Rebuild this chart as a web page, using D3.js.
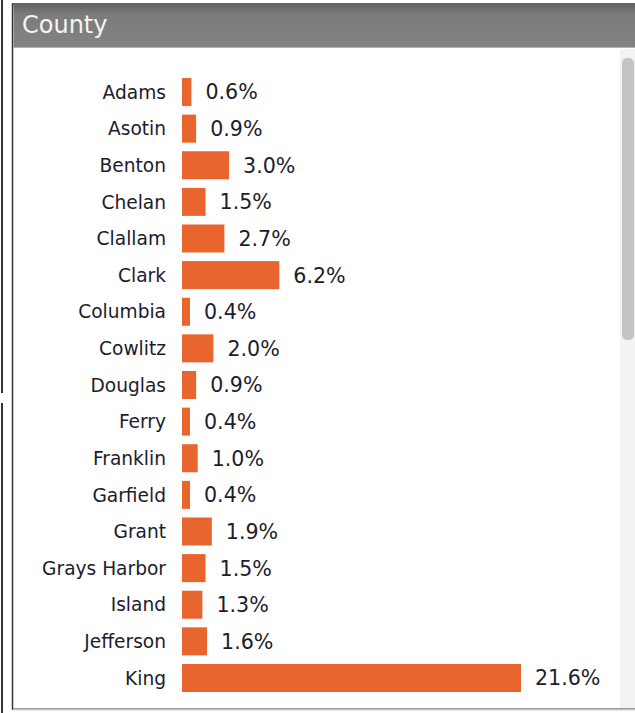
<!DOCTYPE html>
<html>
<head>
<meta charset="utf-8">
<script src="https://cdn.jsdelivr.net/npm/d3@7"></script>
<style>
  html, body { margin: 0; padding: 0; background: #fff; }
  svg { display: block; font-family: "DejaVu Sans", Verdana, sans-serif; }
</style>
</head>
<body>
<div id="main"></div>
<script>
// DATA
const counties = ["Adams", "Asotin", "Benton", "Chelan", "Clallam", "Clark", "Columbia", "Cowlitz",
  "Douglas", "Ferry", "Franklin", "Garfield", "Grant", "Grays Harbor", "Island", "Jefferson", "King"]
const shares = [0.6, 0.9, 3.0, 1.5, 2.7, 6.2, 0.4, 2.0, 0.9, 0.4, 1.0, 0.4, 1.9, 1.5, 1.3, 1.6, 21.6]
const title = "County"

// SETUP
const width = 635
const height = 713
const orange = '#e9652e'
const ink = '#1c1c2c'

let svg = d3.select("#main").append("svg")
  .attr("width", width)
  .attr("height", height)

// outer frame bits on the left
svg.append("line").attr("x1", 2).attr("x2", 2).attr("y1", 0).attr("y2", 393)
  .attr("stroke", "#333").attr("stroke-width", 2)
svg.append("line").attr("x1", 2).attr("x2", 2).attr("y1", 403).attr("y2", height)
  .attr("stroke", "#333").attr("stroke-width", 2)

// panel
let defs = svg.append("defs")
let grad = defs.append("linearGradient").attr("id", "hdr").attr("x1", 0).attr("x2", 0).attr("y1", 0).attr("y2", 1)
grad.append("stop").attr("offset", "0%").attr("stop-color", "#666")
grad.append("stop").attr("offset", "25%").attr("stop-color", "#7c7c7c")
grad.append("stop").attr("offset", "100%").attr("stop-color", "#838383")

svg.append("rect").attr("x", 12.5).attr("y", 4).attr("width", width).attr("height", 705)
  .attr("fill", "#fff").attr("stroke", "#333").attr("stroke-width", 1.5)
svg.append("rect").attr("x", 13.5).attr("y", 5).attr("width", width).attr("height", 42)
  .attr("fill", "url(#hdr)")
svg.append("line").attr("x1", 13).attr("x2", width).attr("y1", 47.5).attr("y2", 47.5)
  .attr("stroke", "#b0b0b0")
svg.append("line").attr("x1", 13).attr("x2", width).attr("y1", 709.5).attr("y2", 709.5)
  .attr("stroke", "#c8c8c8").attr("stroke-width", 2)
svg.append("text").attr("x", 22).attr("y", 33)
  .attr("fill", "#f4f4f4").attr("font-size", 24)
  .text(title)

// scrollbar
svg.append("rect").attr("x", 620).attr("y", 49).attr("width", 15).attr("height", 659)
  .attr("fill", "#f3f3f3")
svg.append("rect").attr("x", 622).attr("y", 58).attr("width", 12).attr("height", 282)
  .attr("rx", 5).attr("fill", "#c4c4c4")

// SCALES
let y = d3.scaleBand()
  .domain(counties)
  .range([73.7, 696.3])
  .paddingInner(0.235)
  .paddingOuter(0.1175)

let x = d3.scaleLinear()
  .domain([0, 21.6])
  .range([182, 521])

const fmt = d3.format(".1f")

// DRAW
let rows = svg.selectAll("g.row")
  .data(counties.map((c, i) => ({county: c, value: shares[i]})))
  .enter().append("g")
    .attr("class", "row")

rows.append("rect")
  .attr("x", x(0))
  .attr("y", d => y(d.county))
  .attr("width", d => Math.max(x(d.value) - x(0), 8))
  .attr("height", y.bandwidth())
  .attr("fill", orange)

rows.append("text")
  .attr("x", 166)
  .attr("y", d => y(d.county) + y.bandwidth() / 2)
  .attr("dy", "0.36em")
  .attr("text-anchor", "end")
  .attr("font-size", 18.6)
  .attr("fill", ink)
  .text(d => d.county)

rows.append("text")
  .attr("x", d => x(0) + Math.max(x(d.value) - x(0), 8) + 14)
  .attr("y", d => y(d.county) + y.bandwidth() / 2)
  .attr("dy", "0.36em")
  .attr("font-size", 20.6)
  .attr("fill", ink)
  .text(d => fmt(d.value) + "%")
</script>
</body>
</html>
